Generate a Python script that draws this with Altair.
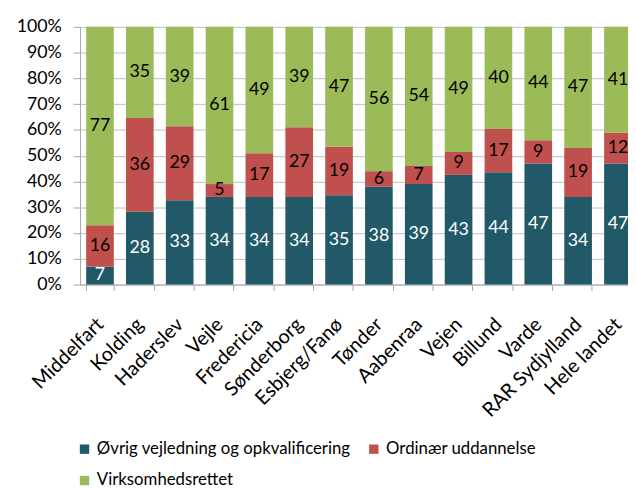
import altair as alt
import pandas as pd

categories = ["Middelfart", "Kolding", "Haderslev", "Vejle", "Fredericia", "Sønderborg",
              "Esbjerg/Fanø", "Tønder", "Aabenraa", "Vejen", "Billund", "Varde",
              "RAR Sydjylland", "Hele landet"]
series = ["Øvrig vejledning og opkvalificering", "Ordinær uddannelse", "Virksomhedsrettet"]
ovrig = [7, 28, 33, 34, 34, 34, 35, 38, 39, 43, 44, 47, 34, 47]
ordinaer = [16, 36, 29, 5, 17, 27, 19, 6, 7, 9, 17, 9, 19, 12]
virksomhed = [77, 35, 39, 61, 49, 39, 47, 56, 54, 49, 40, 44, 47, 41]
colors = ["#215968", "#C0504D", "#9BBB59"]
y_ticks = [0, 0.1, 0.2, 0.3, 0.4, 0.5, 0.6, 0.7, 0.8, 0.9, 1.0]

rows = []
for i, c in enumerate(categories):
    for k, (s, vals) in enumerate(zip(series, [ovrig, ordinaer, virksomhed])):
        rows.append({"cat": c, "series": s, "value": vals[i], "ord": k})
df = pd.DataFrame(rows)

FONT = "Lato"

x_scale = alt.Scale(range=[0, 565], paddingInner=0.306, paddingOuter=0.153)
x_axis = alt.Axis(title=None, labelAngle=-45, labelAlign="right", labelBaseline="middle",
                  labelFont=FONT, labelFontSize=20, labelColor="#000000",
                  labelOverlap=False, labelBound=False,
                  tickBand="extent", ticks=True, tickSize=6, tickColor="#A6A6A6",
                  domain=True, domainColor="#A6A6A6", labelPadding=31, grid=False)
y_scale = alt.Scale(domain=[0, 1], nice=False)
y_axis = alt.Axis(title=None, format=".0%", values=y_ticks, grid=True, labelOverlap=False,
                  gridColor="#BEBEBE", domainColor="#A6A6A6", tickColor="#A6A6A6",
                  tickSize=7, labelFont=FONT, labelFontSize=18, labelColor="#000000",
                  labelPadding=12)

base = alt.Chart(df).transform_stack(
    stack="value", groupby=["cat"], sort=[alt.SortField("ord")], as_=["y0", "y1"], offset="normalize"
).transform_calculate(mid="(datum.y0 + datum.y1) / 2")

bars = base.mark_bar().encode(
    x=alt.X("cat:N", sort=categories, scale=x_scale, axis=x_axis),
    y=alt.Y("y0:Q", scale=y_scale, axis=y_axis),
    y2="y1:Q",
    color=alt.Color("series:N", scale=alt.Scale(domain=series, range=colors),
                    legend=alt.Legend(title=None, orient="none", legendX=-4, legendY=419,
                                      direction="horizontal", columns=2, columnPadding=14,
                                      rowPadding=14, symbolType="square", symbolSize=90,
                                      symbolStrokeWidth=0, labelFont=FONT, labelFontSize=17,
                                      labelColor="#000000", labelOffset=4, labelLimit=400)),
    order=alt.Order("ord:Q"),
)

labels = base.mark_text(font=FONT, fontSize=18).encode(
    x=alt.X("cat:N", sort=categories, scale=x_scale, axis=x_axis),
    y=alt.Y("mid:Q", scale=y_scale, axis=y_axis),
    text=alt.Text("value:Q"),
    color=alt.condition(alt.datum.ord == 0, alt.value("#FFFFFF"), alt.value("#000000")),
)

chart = alt.layer(bars, labels).properties(
    width=555, height=261,
    autosize=alt.AutoSizeParams(type="none"),
    padding={"left": 73, "top": 16, "right": 0, "bottom": 205},
    background="#FFFFFF",
).configure_view(stroke=None).configure_axis(labelOverlap=False)

chart.save("out.html", embed_options={"renderer": "svg", "actions": False})
